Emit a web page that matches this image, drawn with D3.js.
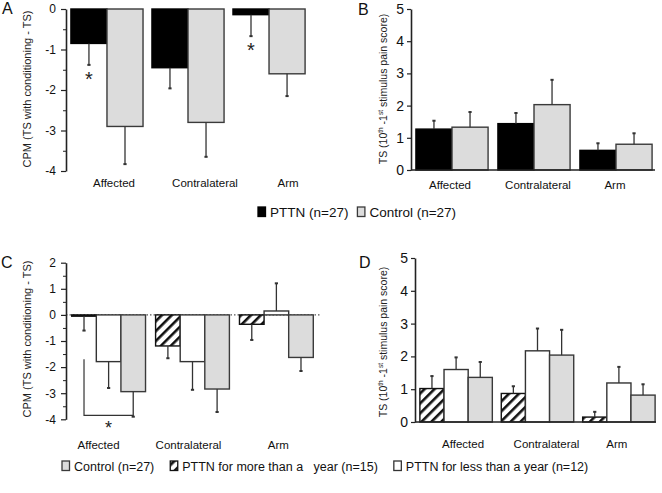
<!DOCTYPE html>
<html>
<head>
<meta charset="utf-8">
<script src="https://cdn.jsdelivr.net/npm/d3@7"></script>
<style>
html,body{margin:0;padding:0;background:#fff;}
svg{display:block;font-family:"Liberation Sans",Arial,sans-serif;}
</style>
</head>
<body>
<svg id="chart" width="662" height="493"></svg>
<script>
// ---------------- DATA ----------------
const categories = ["Affected", "Contralateral", "Arm"];

// Panel A: CPM (TS with conditioning - TS)
const seriesAB = ["PTTN (n=27)", "Control (n=27)"];
const cpmPTTN = [-0.85, -1.45, -0.14];
const cpmPTTNErr = [0.53, 0.51, 0.53];
const cpmControl = [-2.90, -2.80, -1.60];
const cpmControlErr = [0.93, 0.85, 0.55];

// Panel B: TS (10th - 1st stimulus pain score)
const tsPTTN = [1.27, 1.44, 0.61];
const tsPTTNErr = [0.26, 0.33, 0.22];
const tsControl = [1.33, 2.03, 0.80];
const tsControlErr = [0.47, 0.77, 0.34];

// Panel C: CPM by duration
const seriesCD = ["PTTN for more than a year (n=15)", "PTTN for less than a year (n=12)", "Control (n=27)"];
const cpmMore = [-0.05, -1.19, -0.36];
const cpmMoreErr = [0.55, 0.47, 0.60];
const cpmLess = [-1.79, -1.79, 0.15];
const cpmLessErr = [1.01, 1.08, 1.06];
const cpmControlC = [-2.94, -2.84, -1.63];
const cpmControlCErr = [0.96, 0.88, 0.52];

// Panel D: TS by duration
const tsMore = [1.02, 0.87, 0.15];
const tsMoreErr = [0.38, 0.22, 0.16];
const tsLess = [1.60, 2.17, 1.19];
const tsLessErr = [0.37, 0.68, 0.49];
const tsControlD = [1.36, 2.04, 0.82];
const tsControlDErr = [0.47, 0.77, 0.33];

const ticksCPM_A = [0, -1, -2, -3, -4];
const ticksCPM_C = [2, 1, 0, -1, -2, -3, -4];
const ticksTS = [0, 1, 2, 3, 4, 5];

const legend1 = ["PTTN (n=27)", "Control (n=27)"];
const legend2 = ["Control (n=27)", "PTTN for more than a   year (n=15)", "PTTN for less than a year (n=12)"];

// ---------------- STYLES ----------------
const svg = d3.select("#chart");
const defs = svg.append("defs");
const pat = defs.append("pattern").attr("id", "hatch")
  .attr("patternUnits", "userSpaceOnUse").attr("width", 7).attr("height", 7)
  .attr("patternTransform", "rotate(45)");
pat.append("rect").attr("width", 7).attr("height", 7).attr("fill", "#fff");
pat.append("rect").attr("x", 0).attr("y", 0).attr("width", 2.6).attr("height", 7).attr("fill", "#111");

const STY = {
  pttn:    {fill: "#000", stroke: "#000"},
  control: {fill: "#dcdcdc", stroke: "#3a3a3a"},
  more:    {fill: "url(#hatch)", stroke: "#111"},
  less:    {fill: "#fff", stroke: "#333"}
};
const FONT = '"Liberation Sans", Arial, sans-serif';

function drawPanel(cfg) {
  const g = svg.append("g");
  const y = d3.scaleLinear().domain(cfg.domain).range(cfg.yRange);
  const x0 = d3.scaleBand().domain(categories).range(cfg.xRange)
    .paddingInner(cfg.padIn).paddingOuter(cfg.padOut);
  const x1 = d3.scaleBand().domain(cfg.series.map((s, i) => i)).range([0, x0.bandwidth()]);

  if (cfg.zeroLine) {
    g.append("line").attr("x1", cfg.axisX).attr("x2", cfg.zeroLine)
      .attr("y1", y(0)).attr("y2", y(0))
      .attr("stroke", "#555").attr("stroke-width", 1.2).attr("stroke-dasharray", "1.5,2");
  }

  cfg.series.forEach((s, si) => {
    categories.forEach((c, ci) => {
      const v = s.values[ci];
      const bx = x0(c) + x1(si);
      const y0 = y(0), yv = y(v);
      g.append("rect")
        .attr("x", bx).attr("y", Math.min(y0, yv))
        .attr("width", x1.bandwidth()).attr("height", Math.max(Math.abs(yv - y0), 0.6))
        .attr("fill", s.style.fill).attr("stroke", s.style.stroke).attr("stroke-width", 1.4);
    });
  });
  cfg.series.forEach((s, si) => {
    categories.forEach((c, ci) => {
      const v = s.values[ci], e = s.err[ci];
      const cx = x0(c) + x1(si) + x1.bandwidth() / 2;
      const sgn = v < 0 ? -1 : 1;
      const yEnd = y(v + sgn * e);
      g.append("line").attr("x1", cx).attr("x2", cx).attr("y1", y(v)).attr("y2", yEnd)
        .attr("stroke", "#333").attr("stroke-width", 1.3);
      g.append("line").attr("x1", cx - 1.6).attr("x2", cx + 1.6).attr("y1", yEnd).attr("y2", yEnd)
        .attr("stroke", "#333").attr("stroke-width", 2);
      if (s.stars && s.stars[ci]) {
        g.append("text").attr("x", cx).attr("y", yEnd + 21)
          .attr("text-anchor", "middle").attr("font-size", 20).attr("font-family", FONT)
          .attr("fill", "#222").text("*");
      }
    });
  });

  const ax = d3.axisLeft(y).tickValues(cfg.ticks).tickSize(cfg.tickSize).tickSizeOuter(0)
    .tickPadding(cfg.tickPad).tickFormat(d => String(d));
  const ag = g.append("g").attr("transform", `translate(${cfg.axisX},0)`).call(ax);
  ag.select(".domain").attr("stroke", "#222").attr("stroke-width", 1.6);
  ag.selectAll(".tick line").attr("stroke", "#222").attr("stroke-width", 1.2);
  ag.selectAll(".tick text").attr("font-size", cfg.tickFont).attr("font-family", FONT).attr("fill", "#111");
  if (cfg.minor) {
    const mn = [];
    for (let v = cfg.domain[0] + 0.5; v < cfg.domain[1]; v += 1) mn.push(v);
    const am = d3.axisLeft(y).tickValues(mn).tickSize(3).tickSizeOuter(0).tickFormat("");
    const mg = g.append("g").attr("transform", `translate(${cfg.axisX},0)`).call(am);
    mg.select(".domain").remove();
    mg.selectAll(".tick line").attr("stroke", "#222").attr("stroke-width", 1);
  }
  if (cfg.xAxisEnd) {
    g.append("line").attr("x1", cfg.axisX).attr("x2", cfg.xAxisEnd)
      .attr("y1", y(0)).attr("y2", y(0)).attr("stroke", "#222").attr("stroke-width", 1.6);
  }
  categories.forEach((c, ci) => {
    g.append("text").attr("x", x0(c) + x0.bandwidth() / 2 + cfg.labelDx[ci]).attr("y", cfg.labelY)
      .attr("text-anchor", "middle").attr("font-size", cfg.labelFont).attr("font-family", FONT)
      .attr("fill", "#111").text(c);
  });
  const yl = g.append("text")
    .attr("transform", `translate(${cfg.yLabelX},${cfg.yLabelY}) rotate(-90)`)
    .attr("text-anchor", "middle").attr("dominant-baseline", "central")
    .attr("font-size", cfg.yLabelFont).attr("font-family", FONT).attr("fill", "#222");
  cfg.yLabel.forEach(part => {
    const t = yl.append("tspan").text(part.t);
    if (part.sup) t.attr("font-size", cfg.yLabelFont * 0.62).attr("dy", -3.5);
    if (part.after) t.attr("dy", 3.5);
  });
  g.append("text").attr("x", cfg.letterX).attr("y", cfg.letterY)
    .attr("font-size", 16).attr("font-family", FONT).attr("fill", "#111").text(cfg.letter);
  return {x0, x1, y, g};
}

const cpmLabel = [{t: "CPM (TS with conditioning - TS)"}];
const tsLabel = [{t: "TS (10"}, {t: "th", sup: true}, {t: " -1", after: true}, {t: "st", sup: true}, {t: " stimulus pain score)", after: true}];

drawPanel({
  letter: "A", letterX: 2, letterY: 14,
  domain: [-4, 0], yRange: [171, 9], xRange: [62, 314], padIn: 0.11, padOut: 0.11,
  axisX: 66, ticks: ticksCPM_A, tickSize: 5, tickPad: 5, tickFont: 12, minor: true,
  series: [
    {values: cpmPTTN, err: cpmPTTNErr, style: STY.pttn, stars: [true, false, true]},
    {values: cpmControl, err: cpmControlErr, style: STY.control}
  ],
  labelDx: [7, 17, 19], labelY: 187, labelFont: 11.5,
  yLabel: cpmLabel, yLabelX: 27, yLabelY: 89, yLabelFont: 11
});

drawPanel({
  letter: "B", letterX: 358, letterY: 15,
  domain: [0, 5], yRange: [170, 9], xRange: [411, 657], padIn: 0.12, padOut: 0.06,
  axisX: 411, ticks: ticksTS, tickSize: 4, tickPad: 3, tickFont: 14, xAxisEnd: 655,
  series: [
    {values: tsPTTN, err: tsPTTNErr, style: STY.pttn},
    {values: tsControl, err: tsControlErr, style: STY.control}
  ],
  labelDx: [-2, 4, -1], labelY: 189, labelFont: 11.5,
  yLabel: tsLabel, yLabelX: 383, yLabelY: 89, yLabelFont: 10.5
});

const pc = drawPanel({
  letter: "C", letterX: 1, letterY: 268,
  domain: [-4, 2], yRange: [419.3, 262.7], xRange: [65, 320], padIn: 0.12, padOut: 0.08,
  axisX: 66, ticks: ticksCPM_C, tickSize: 5, tickPad: 5, tickFont: 12, minor: true, zeroLine: 321,
  series: [
    {values: cpmMore, err: cpmMoreErr, style: STY.more},
    {values: cpmLess, err: cpmLessErr, style: STY.less},
    {values: cpmControlC, err: cpmControlCErr, style: STY.control}
  ],
  labelDx: [-10, -4, 2], labelY: 449, labelFont: 11.5,
  yLabel: cpmLabel, yLabelX: 27, yLabelY: 339, yLabelFont: 11
});
{
  const bx1 = pc.x0("Affected") + pc.x1(0) + pc.x1.bandwidth() / 2;
  const bx2 = pc.x0("Affected") + pc.x1(2) + pc.x1.bandwidth() / 2;
  const yTop = pc.y(-1.7), yBot = pc.y(-3.85);
  pc.g.append("path").attr("d", `M${bx1},${yTop}V${yBot}H${bx2}`)
    .attr("fill", "none").attr("stroke", "#333").attr("stroke-width", 1.2);
  pc.g.append("text").attr("x", (bx1 + bx2) / 2).attr("y", yBot + 19).attr("text-anchor", "middle")
    .attr("font-size", 18).attr("font-family", FONT).attr("fill", "#222").text("*");
}

drawPanel({
  letter: "D", letterX: 359, letterY: 268,
  domain: [0, 5], yRange: [422, 258], xRange: [415, 660], padIn: 0.11, padOut: 0.06,
  axisX: 415, ticks: ticksTS, tickSize: 4, tickPad: 3, tickFont: 14, xAxisEnd: 656,
  series: [
    {values: tsMore, err: tsMoreErr, style: STY.more},
    {values: tsLess, err: tsLessErr, style: STY.less},
    {values: tsControlD, err: tsControlDErr, style: STY.control}
  ],
  labelDx: [7, 9, -2], labelY: 448, labelFont: 11.5,
  yLabel: tsLabel, yLabelX: 383, yLabelY: 342, yLabelFont: 10.5
});

function drawLegend(items, styles, startX, baseY, fontSize, gap) {
  const lg = svg.append("g");
  let cx = startX;
  items.forEach((label, i) => {
    lg.append("rect").attr("x", cx).attr("y", baseY - 10).attr("width", 7.5).attr("height", 9.5)
      .attr("fill", styles[i].fill).attr("stroke", styles[i].stroke).attr("stroke-width", 1.3);
    const t = lg.append("text").attr("x", cx + 12).attr("y", baseY)
      .attr("font-size", fontSize).attr("font-family", FONT).attr("fill", "#111")
      .attr("xml:space", "preserve").style("white-space", "pre").text(label);
    cx += 12 + t.node().getComputedTextLength() + gap;
  });
}
drawLegend(legend1, [STY.pttn, STY.control], 258, 217, 13.5, 9);
drawLegend(legend2, [STY.control, STY.more, STY.less], 62, 471, 12.5, 16);
</script>
</body>
</html>
